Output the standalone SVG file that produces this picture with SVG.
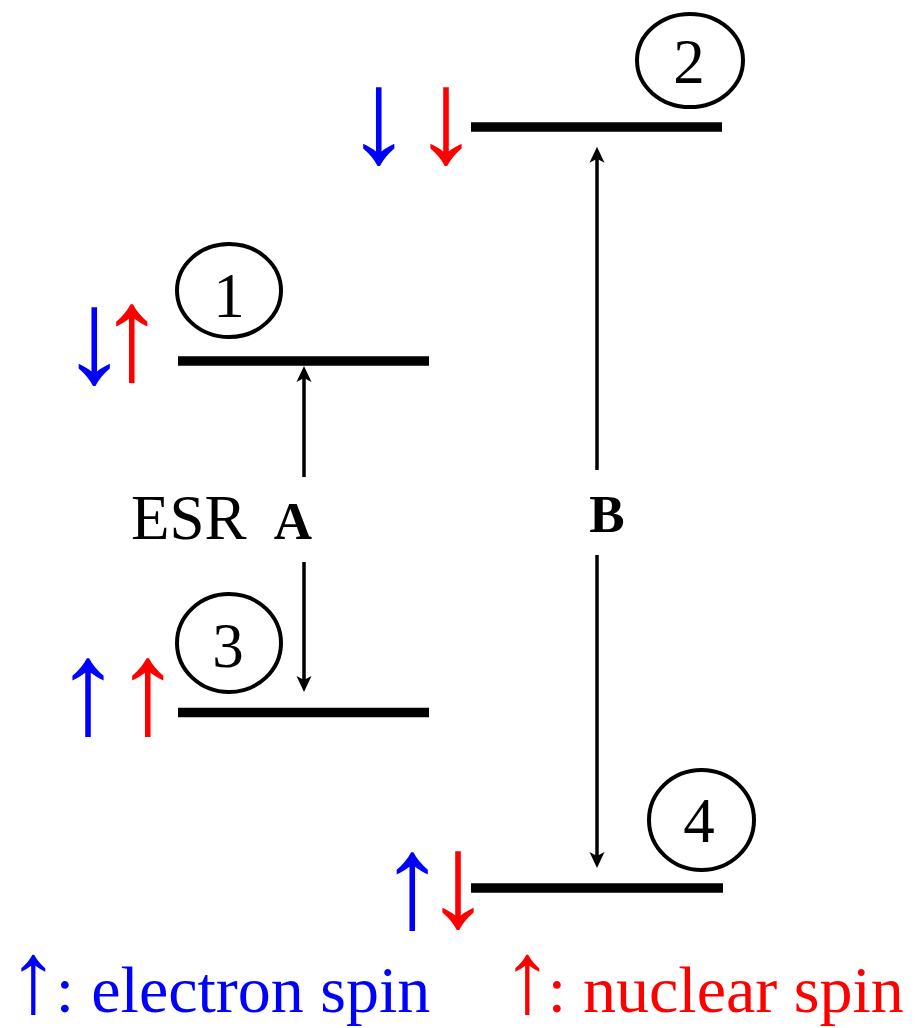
<svg xmlns="http://www.w3.org/2000/svg" width="918" height="1028" viewBox="0 0 918 1028">
<style>
.lvl{stroke:#000;stroke-width:9.5;fill:none}
.circ{fill:none;stroke:#000;stroke-width:4}
.num{font-family:"Liberation Serif","Times New Roman",serif;font-size:63px;text-anchor:middle;fill:#000}
.spin{font-family:"Liberation Serif","Times New Roman",serif;font-size:133px;text-anchor:middle}
.larr{font-size:102px}
.leg{font-family:"Liberation Serif","Times New Roman",serif;font-size:66px}
.b{fill:#0000ff}
.r{fill:#ff0000}
.conn{stroke:#000;stroke-width:3.5;fill:none;marker-end:url(#ah)}
.lab{font-family:"Liberation Serif","Times New Roman",serif;fill:#000}
</style>
<defs>
<marker id="ah" markerUnits="userSpaceOnUse" markerWidth="20" markerHeight="20" refX="4" refY="8" orient="auto">
<path d="M0,0.5 L16,8 L0,15.5 L4,8 z" fill="#000"/>
</marker>
</defs>
<rect width="918" height="1028" fill="#fff"/>
<g id="level1">
<line class="lvl" x1="178" y1="361" x2="429" y2="361"/>
<ellipse class="circ" cx="229" cy="290.5" rx="52" ry="46.5"/>
<text class="num" x="229" y="317">1</text>
<text class="spin"><tspan class="b" x="94.3" y="382">↓</tspan><tspan class="r" x="131.7" y="379">↑</tspan></text>
</g>
<g id="level2">
<line class="lvl" x1="471" y1="127" x2="722" y2="127"/>
<ellipse class="circ" cx="690" cy="60.5" rx="53" ry="46.5"/>
<text class="num" x="689" y="83">2</text>
<text class="spin"><tspan class="b" x="378.7" y="162">↓</tspan><tspan class="r" x="446" y="162">↓</tspan></text>
</g>
<g id="level3">
<line class="lvl" x1="178" y1="712.5" x2="429" y2="712.5"/>
<ellipse class="circ" cx="229" cy="643" rx="52" ry="49"/>
<text class="num" x="228" y="667">3</text>
<text class="spin"><tspan class="b" x="88" y="733">↑</tspan><tspan class="r" x="147.7" y="733">↑</tspan></text>
</g>
<g id="level4">
<line class="lvl" x1="471" y1="888" x2="723" y2="888"/>
<ellipse class="circ" cx="701.5" cy="820" rx="52.5" ry="50"/>
<text class="num" x="699" y="842">4</text>
<text class="spin"><tspan class="b" x="412.3" y="927">↑</tspan><tspan class="r" x="458" y="926">↓</tspan></text>
</g>
<g id="connectors">
<path class="conn" d="M304,477 L304,378"/>
<path class="conn" d="M304,562 L304,680"/>
<path class="conn" d="M597,470 L597,158.7"/>
<path class="conn" d="M597,555 L597,856"/>
</g>
<g id="labels">
<text class="lab" x="131" y="539" font-size="63">ESR</text>
<text class="lab" x="293" y="539" font-size="53" font-weight="bold" text-anchor="middle">A</text>
<text class="lab" x="607" y="532" font-size="53" font-weight="bold" text-anchor="middle">B</text>
</g>
<g id="legend">
<text class="leg b" y="1012"><tspan class="larr" x="8">↑</tspan><tspan x="55.7">:</tspan><tspan x="91.3">electron spin</tspan></text>
<text class="leg r" y="1012"><tspan class="larr" x="502">↑</tspan><tspan x="547.7">:</tspan><tspan x="583">nuclear spin</tspan></text>
</g>
</svg>
